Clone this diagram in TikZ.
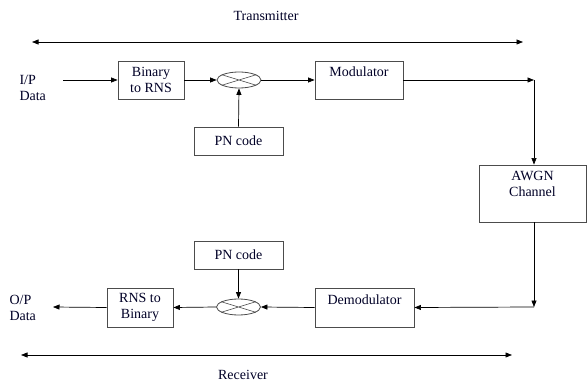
\documentclass[tikz,border=0pt]{standalone}
\usepackage{fontspec}
\setmainfont{Liberation Serif}
\usetikzlibrary{arrows.meta,shapes.geometric}
\begin{document}
\begin{tikzpicture}[x=1pt,y=-1pt,
  every node/.style={font=\fontsize{14}{16}\selectfont, text=black!85!blue},
  blk/.style={draw=black!70, line width=0.9pt, inner sep=0pt},
  mult/.style={draw=black!70, ellipse, line width=0.8pt, minimum width=44pt, minimum height=16pt, inner sep=0pt},
  arr/.style={line width=0.7pt, -{Triangle[length=6.5pt,width=5pt]}},
  darr/.style={line width=0.7pt, {Triangle[length=6.5pt,width=5pt]}-{Triangle[length=6.5pt,width=5pt]}}
]
\useasboundingbox (0,0) rectangle (587,385);
% top span
\coordinate (tl) at (32,42);
\coordinate (tr) at (523,42);
\draw[darr] (tl) -- (tr);
\node (txlab) at (266,16) {Transmitter};
% transmitter chain
\node[align=left, anchor=west] (ip) at (16,88) {I/P\\Data};
\coordinate (in) at (63,80);
\node[blk, minimum width=66pt, minimum height=38pt, align=center] (b2r) at (151,80) {Binary\\to RNS};
\node[mult] (m1) at (239,80) {};
\draw[line width=0.6pt, black!70] (m1.163) -- (m1.-17) (m1.17) -- (m1.-163);
\node[blk, minimum width=89pt, minimum height=28pt] (pn1) at (238.5,141) {PN code};
\node[blk, minimum width=88pt, minimum height=38pt] (mod) at (359,80) {};
\node (modlab) at ([yshift=-11pt]mod.north) {Modulator};
\coordinate (c1) at (534,80);
\node[blk, minimum width=107pt, minimum height=57pt] (awgn) at (532.5,193.5) {};
\node[align=center] (awgnlab) at ([yshift=-19pt]awgn.north) {AWGN\\Channel};
\draw[arr] (in) -- (b2r.west);
\draw[arr] (b2r.east) -- (m1.west);
\draw[arr] (pn1.north) -- (m1.south);
\draw[arr] (m1.east) -- (mod.west);
\draw[arr] (mod.east) -- (c1);
\draw[arr] (c1) -- (c1 |- awgn.north);
% receiver chain
\coordinate (c2) at (534,307);
\node[blk, minimum width=99pt, minimum height=39pt] (dem) at (364.5,307.5) {};
\node (demlab) at ([yshift=-12pt]dem.north) {Demodulator};
\node[mult] (m2) at (238.5,307) {};
\draw[line width=0.6pt, black!70] (m2.163) -- (m2.-17) (m2.17) -- (m2.-163);
\node[blk, minimum width=89pt, minimum height=28pt] (pn2) at (238.5,255) {PN code};
\node[blk, minimum width=66pt, minimum height=39pt, align=center] (r2b) at (140,307.5) {RNS to\\Binary};
\coordinate (out) at (53,307);
\node[align=left, anchor=west] (op) at (6,307.5) {O/P\\Data};
\draw[arr] (c2 |- awgn.south) -- (c2);
\draw[arr] (c2) -- (dem.east);
\draw[arr] (dem.west) -- (m2.east);
\draw[arr] (pn2.south) -- (m2.north);
\draw[arr] (m2.west) -- (r2b.east);
\draw[arr] (r2b.west) -- (out);
% bottom span
\coordinate (bl) at (21,355);
\coordinate (br) at (512,355);
\draw[darr] (bl) -- (br);
\node (rxlab) at (243,375) {Receiver};
\end{tikzpicture}
\end{document}
